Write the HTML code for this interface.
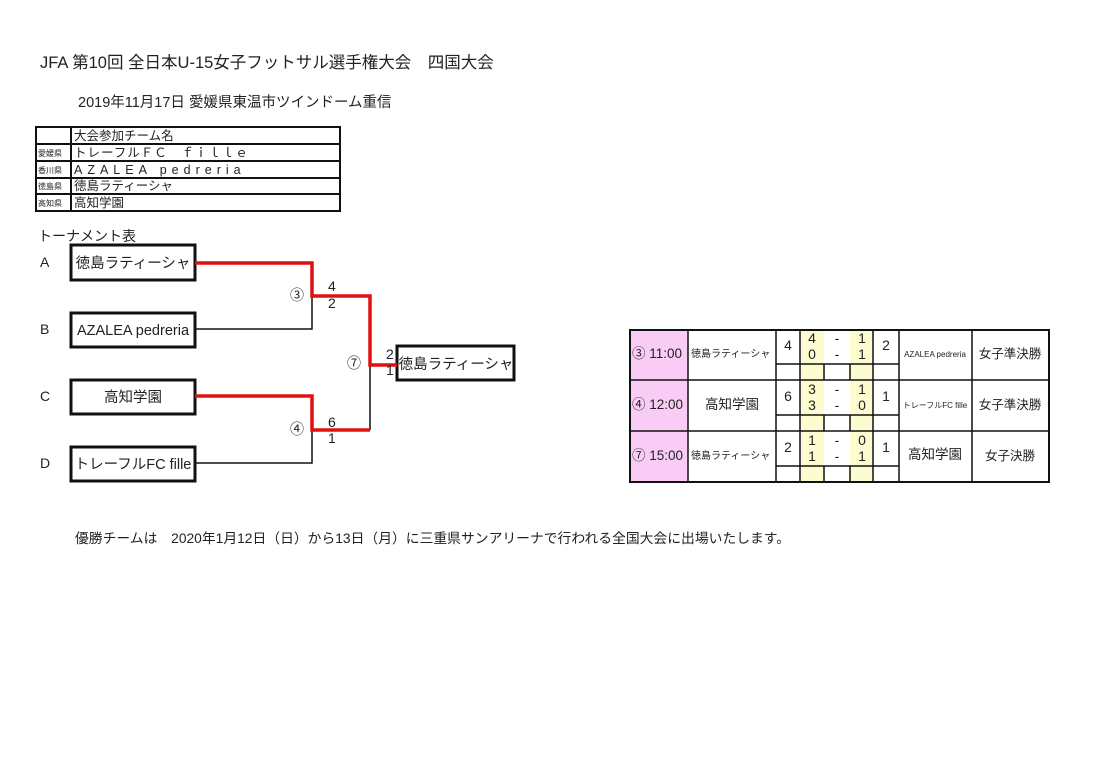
<!DOCTYPE html>
<html><head><meta charset="utf-8"><style>
body{margin:0;background:#fff;}
svg text{font-family:"Liberation Sans","Noto Sans CJK JP",sans-serif;fill:#222;}
</style></head><body>
<svg width="1095" height="753" xmlns="http://www.w3.org/2000/svg">
<rect width="1095" height="753" fill="#fff"/>
<text x="40" y="68" font-size="16.5">JFA 第10回 全日本U-15女子フットサル選手権大会　四国大会</text>
<text x="78" y="107" font-size="14.5">2019年11月17日  愛媛県東温市ツインドーム重信</text>
<!-- entry table -->
<g stroke="#111" stroke-width="2" fill="none">
<rect x="36" y="127" width="304" height="84"/>
<line x1="36" y1="144" x2="340" y2="144"/>
<line x1="36" y1="161" x2="340" y2="161"/>
<line x1="36" y1="178" x2="340" y2="178"/>
<line x1="36" y1="194" x2="340" y2="194"/>
<line x1="71" y1="127" x2="71" y2="211"/>
</g>
<g font-size="12.5">
<text x="74" y="140">大会参加チーム名</text>
<text x="74" y="157" letter-spacing="1">トレーフルＦＣ　ｆｉｌｌｅ</text>
<text x="74" y="174" letter-spacing="5">AZALEA pedreria</text>
<text x="74" y="190">徳島ラティーシャ</text>
<text x="74" y="207">高知学園</text>
</g>
<g font-size="8" fill="#444">
<text x="38" y="156">愛媛県</text><text x="38" y="173">香川県</text><text x="38" y="189">徳島県</text><text x="38" y="206">高知県</text>
</g>
<text x="38" y="241" font-size="14">トーナメント表</text>
<!-- bracket -->
<g font-size="14">
<text x="40" y="267">A</text><text x="40" y="334">B</text><text x="40" y="401">C</text><text x="40" y="468">D</text>
</g>
<g stroke="#111" stroke-width="3" fill="none">
<rect x="71" y="245" width="124" height="35"/>
<rect x="71" y="313" width="124" height="34"/>
<rect x="71" y="380" width="124" height="34"/>
<rect x="71" y="447" width="124" height="34"/>
<rect x="397" y="346" width="117" height="34"/>
</g>
<g font-size="14.5" text-anchor="middle">
<text x="133" y="268">徳島ラティーシャ</text>
<text x="133" y="335">AZALEA pedreria</text>
<text x="133" y="402">高知学園</text>
<text x="133" y="469">トレーフルFC fille</text>
<text x="456" y="369">徳島ラティーシャ</text>
</g>
<g stroke="#111" stroke-width="1.5" fill="none">
<polyline points="195,329 312,329 312,296"/>
<polyline points="195,463 312,463 312,430"/>
<polyline points="370,430 370,365"/>
</g>
<g stroke="#e01010" stroke-width="3.5" fill="none">
<polyline points="195,263 312,263 312,296 370,296 370,365 397,365"/>
<polyline points="195,396 312,396 312,430 370,430"/>
</g>
<g font-size="14">
<text x="328" y="291">4</text><text x="328" y="308">2</text>
<text x="328" y="427">6</text><text x="328" y="443">1</text>
<text x="386" y="359">2</text><text x="386" y="375">1</text>
<text x="290" y="300">③</text><text x="290" y="434">④</text><text x="347" y="368">⑦</text>
</g>
<!-- result table -->
<rect x="630" y="330" width="58" height="152" fill="#f9ccf5"/>
<rect x="801" y="330" width="23" height="152" fill="#fdfbd0"/>
<rect x="850" y="330" width="23" height="152" fill="#fdfbd0"/>
<g stroke="#111" stroke-width="1.5" fill="none">
<rect x="630" y="330" width="419" height="152" stroke-width="2"/>
<line x1="630" y1="380" x2="1049" y2="380"/><line x1="630" y1="431" x2="1049" y2="431"/>
<line x1="776" y1="364" x2="899" y2="364"/><line x1="776" y1="415" x2="899" y2="415"/><line x1="776" y1="466" x2="899" y2="466"/>
<line x1="688" y1="330" x2="688" y2="482"/><line x1="776" y1="330" x2="776" y2="482"/>
<line x1="800" y1="330" x2="800" y2="482"/><line x1="873" y1="330" x2="873" y2="482"/>
<line x1="899" y1="330" x2="899" y2="482"/><line x1="972" y1="330" x2="972" y2="482"/>
<line x1="824" y1="364" x2="824" y2="380"/><line x1="850" y1="364" x2="850" y2="380"/>
<line x1="824" y1="415" x2="824" y2="431"/><line x1="850" y1="415" x2="850" y2="431"/>
<line x1="824" y1="466" x2="824" y2="482"/><line x1="850" y1="466" x2="850" y2="482"/>
</g>
<g font-size="13.5">
<text x="632" y="358">③ 11:00</text><text x="632" y="409">④ 12:00</text><text x="632" y="460">⑦ 15:00</text>
</g>
<g font-size="10"><text x="691" y="357">徳島ラティーシャ</text><text x="691" y="459">徳島ラティーシャ</text></g>
<text x="732" y="409" font-size="13.5" text-anchor="middle">高知学園</text>
<g font-size="14" text-anchor="middle">
<text x="788" y="350">4</text><text x="788" y="401">6</text><text x="788" y="452">2</text>
<text x="886" y="350">2</text><text x="886" y="401">1</text><text x="886" y="452">1</text>
<text x="812" y="343">4</text><text x="812" y="359">0</text><text x="862" y="343">1</text><text x="862" y="359">1</text>
<text x="812" y="394">3</text><text x="812" y="410">3</text><text x="862" y="394">1</text><text x="862" y="410">0</text>
<text x="812" y="445">1</text><text x="812" y="461">1</text><text x="862" y="445">0</text><text x="862" y="461">1</text>
<text x="837" y="343">-</text><text x="837" y="359">-</text><text x="837" y="394">-</text><text x="837" y="410">-</text><text x="837" y="445">-</text><text x="837" y="461">-</text>
<text x="935" y="459" font-size="13.5">高知学園</text>
<text x="1010" y="358" font-size="12.5">女子準決勝</text><text x="1010" y="409" font-size="12.5">女子準決勝</text><text x="1010" y="460" font-size="12.5">女子決勝</text>
</g>
<g font-size="8" text-anchor="middle"><text x="935" y="357">AZALEA pedreria</text><text x="935" y="408">トレーフルFC fille</text></g>
<text x="75" y="543" font-size="13.8">優勝チームは　2020年1月12日（日）から13日（月）に三重県サンアリーナで行われる全国大会に出場いたします。</text>
</svg>
</body></html>
